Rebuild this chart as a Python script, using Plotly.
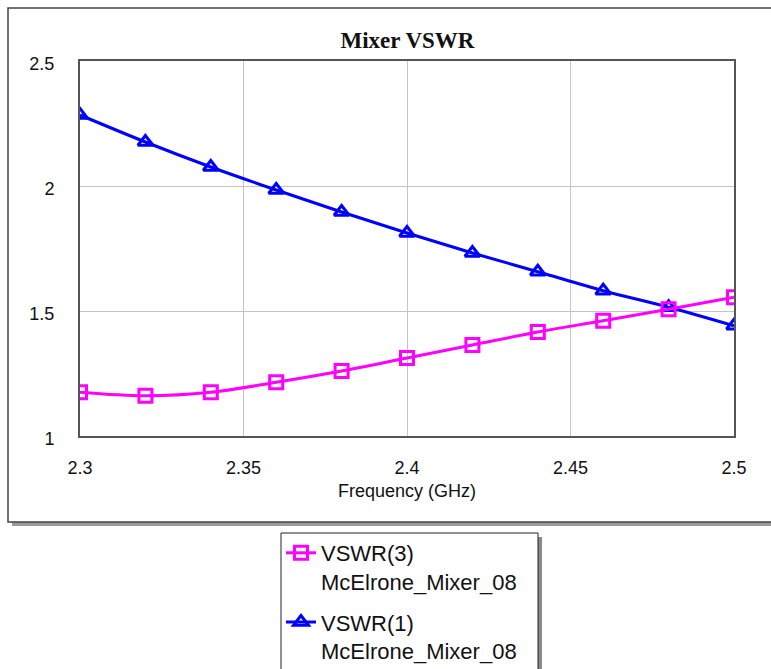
import plotly.graph_objects as go

freq = [2.30, 2.32, 2.34, 2.36, 2.38, 2.40, 2.42, 2.44, 2.46, 2.48, 2.50]
vswr3 = [1.175, 1.161, 1.175, 1.215, 1.260, 1.312, 1.364, 1.416, 1.461, 1.507, 1.555]
vswr1 = [2.284, 2.176, 2.076, 1.984, 1.896, 1.812, 1.732, 1.657, 1.581, 1.515, 1.441]
name3 = "VSWR(3)<br>McElrone_Mixer_08"
name1 = "VSWR(1)<br>McElrone_Mixer_08"
x_ticks = [2.3, 2.35, 2.4, 2.45, 2.5]
x_labels = ["2.3", "2.35", "2.4", "2.45", "2.5"]
y_ticks = [1, 1.5, 2, 2.5]
y_labels = ["1", "1.5", "2", "2.5"]

W, H = 771, 669
L, R, T, B = 80, 734, 61, 436


def px(xp):
    return (xp - L) / (R - L)


def py(yp):
    return (B - yp) / (B - T)


fig = go.Figure()
fig.add_trace(go.Scatter(
    x=freq, y=vswr1, name=name1, mode="lines+markers", line_shape="spline",
    line=dict(color="#0000ff", width=3),
    marker=dict(symbol="triangle-up-open", size=13, color="#0000ff",
                line=dict(color="#0000ff", width=3)),
    legendrank=2, legendgroup="b",
))
fig.add_trace(go.Scatter(
    x=freq, y=vswr3, name=name3, mode="lines+markers", line_shape="spline",
    line=dict(color="#ff00ff", width=3),
    marker=dict(symbol="square-open", size=13, color="#ff00ff",
                line=dict(color="#ff00ff", width=3)),
    legendrank=1, legendgroup="a",
))

shapes = [
    # outer frame shadow and frame
    dict(type="rect", xref="paper", yref="paper", layer="below",
         x0=px(12), x1=px(790), y0=py(526), y1=py(12),
         fillcolor="#9a9a9a", line=dict(width=0)),
    dict(type="rect", xref="paper", yref="paper", layer="below",
         x0=px(8), x1=px(786), y0=py(522), y1=py(8),
         fillcolor="white", line=dict(color="#444444", width=1.5)),
    # legend box shadow and box
    dict(type="rect", xref="paper", yref="paper", layer="below",
         x0=px(285), x1=px(542), y0=py(680), y1=py(537),
         fillcolor="#8a8a8a", line=dict(width=0)),
    dict(type="rect", xref="paper", yref="paper", layer="below",
         x0=px(281), x1=px(538), y0=py(676), y1=py(533),
         fillcolor="white", line=dict(color="#222222", width=1)),
]

fig.update_layout(
    width=W, height=H,
    margin=dict(l=L, r=W - R, t=T, b=H - B, autoexpand=False),
    paper_bgcolor="white", plot_bgcolor="white",
    font=dict(family="Liberation Sans, Arial, sans-serif", color="#111111", size=18),
    title=dict(text="<b>Mixer VSWR</b>", x=px(407.5), xref="paper", xanchor="center",
               y=1 - 40 / H, yref="container", yanchor="middle",
               font=dict(family="Liberation Serif, Times New Roman, serif", size=23,
                         color="#111111")),
    shapes=shapes,
    showlegend=True,
    legend=dict(x=px(281), y=py(532), xanchor="left", yanchor="top",
                bgcolor="rgba(0,0,0,0)", borderwidth=0,
                font=dict(family="Liberation Sans, Arial, sans-serif", size=22,
                          color="#111111"),
                valign="top", traceorder="grouped", tracegroupgap=9, itemwidth=30),
    xaxis=dict(range=[2.3, 2.5], tickvals=x_ticks, ticktext=x_labels,
               showgrid=True, gridcolor="#c4c4c4", gridwidth=1,
               showline=True, linecolor="#555555", linewidth=2, mirror=True,
               ticks="", ticklabelstandoff=14, zeroline=False, automargin=False,
               title=dict(text="Frequency (GHz)", standoff=8,
                          font=dict(size=18))),
    yaxis=dict(range=[1, 2.5], tickvals=y_ticks, ticktext=y_labels,
               showgrid=True, gridcolor="#c4c4c4", gridwidth=1,
               showline=True, linecolor="#555555", linewidth=2, mirror=True,
               ticks="", ticklabelstandoff=20, ticklabelshift=3, zeroline=False,
               automargin=False),
)

fig.write_html("out.html")
